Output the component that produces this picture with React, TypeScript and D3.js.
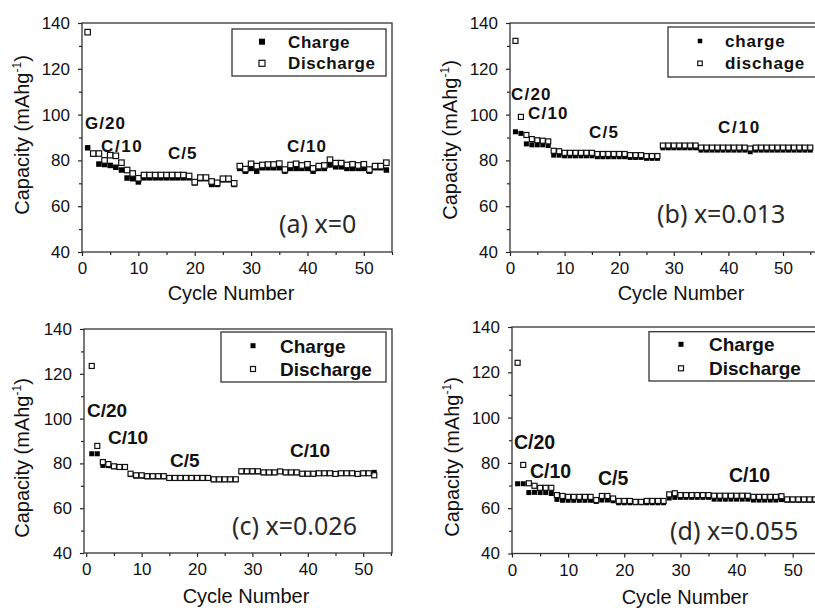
import React, { useEffect, useRef } from "react";
import * as d3 from "d3";

// capacity values per cycle (cycle number = index + 1)
const chargeA = [85.5, 82.8, 78.4, 78.2, 77.8, 77, 75.8, 72.3, 72, 70.6,
  72.4, 72.4, 72.4, 72.4, 72.4, 72.4, 72.4, 72.4, 72.4, 70.2, 72, 72, 69.5, 69.5, 71.5, 71.5, 69.5,
  76.5, 75.3, 76.5, 75.3, 76.8, 76.8, 76.8, 76.8, 75.3, 76.5, 76.5, 76.5, 76.5, 75.3, 76.5, 76.5,
  78, 77.2, 77.2, 76.5, 76.5, 76.5, 76.5, 75.3, 76.8, 76.8, 75.8];
const dischargeA = [136, 83, 83, 80, 82.3, 82, 79, 75.8, 74.3, 72.2,
  73.6, 73.6, 73.6, 73.6, 73.6, 73.6, 73.6, 73.6, 73.2, 70.5, 72.5, 72.5, 70.8, 70.2, 72, 72, 70,
  77.5, 76.2, 78.5, 77.5, 78, 78.2, 78.2, 78.6, 76, 78, 78.5, 77.8, 78.3, 76.5, 77.5, 77.8,
  80.3, 78.8, 78.8, 78, 78.3, 77.8, 78.3, 76, 77.5, 77.5, 79];

const chargeB = [92.5, 91.8, 87.2, 86.8, 86.8, 86.8, 86.5, 82.3, 82.3,
  82, 82, 82, 82, 82, 82, 81.6, 81.6, 81.6, 81.6, 81.6, 81.6, 81.3, 81.3, 81.3, 80.9, 80.9, 80.9,
  85.5, 85.5, 85.5, 85.5, 85.5, 85.5, 85.5, 84.5, 84.5, 84.5, 84.5, 84.5, 84.5, 84.5, 84.5, 84.5,
  83.8, 84.5, 84.5, 84.5, 84.5, 84.5, 84.5, 84.5, 84.5, 84.5, 84.5, 84.5];
const dischargeB = [132.2, 99, 91.1, 89.3, 88.8, 88.6, 88.3, 84.2, 84,
  83.3, 83.3, 83.3, 83.3, 83.3, 83.3, 82.8, 82.8, 82.8, 82.8, 82.8, 82.8, 82.3, 82.3, 82.3, 81.9, 81.9, 81.9,
  86.5, 86.5, 86.5, 86.5, 86.5, 86.5, 86.5, 85.6, 85.6, 85.6, 85.6, 85.6, 85.6, 85.6, 85.6, 85.6,
  85.2, 85.6, 85.6, 85.6, 85.6, 85.6, 85.6, 85.6, 85.6, 85.6, 85.6, 85.6];

const chargeC = [84.3, 84.3, 79.1, 79, 78.5, 78.2, 78.2, 75, 74.3, 74.3,
  74, 74, 74, 74, 73.3, 73.3, 73.3, 73.3, 73.3, 73.3, 73.3, 73.3, 72.7, 72.7, 72.7, 72.7, 72.7,
  76.2, 76.2, 76.2, 76.2, 75.8, 75.8, 75.8, 76.4, 75.8, 75.8, 75.8, 75.2, 75.2, 75.2,
  75.5, 75.5, 75.5, 75.5, 75.5, 75.5, 75.5, 75.5, 75.5, 75.5, 76];
const dischargeC = [123.5, 87.8, 80.6, 79.7, 78.7, 78.4, 78.4, 75.4, 74.7, 74.7,
  74.3, 74.3, 74.3, 74.3, 73.5, 73.5, 73.5, 73.5, 73.5, 73.5, 73.5, 73.5, 72.9, 72.9, 72.9, 72.9, 72.9,
  76.5, 76.5, 76.5, 76.5, 76, 76, 76, 76.4, 76, 76, 76, 75.4, 75.4, 75.4,
  75.6, 75.6, 75.6, 75.3, 75.6, 75.6, 75.6, 75.3, 75.6, 75.6, 74.7];

const chargeD = [70.8, 70.8, 66.9, 67, 66.9, 66.9, 66.5, 63.9,
  63.5, 63.5, 63.5, 63.5, 63.5, 63.5, 63, 63.6, 63.6, 63.3,
  62.4, 62.4, 62.4, 62.4, 62.4, 62.4, 62.4, 62.4, 62.4,
  64.5, 64.8, 64.8, 64.8, 64.8, 64.8, 64.8, 64.8, 64, 64, 64, 64, 64, 64, 64,
  63.6, 63.6, 63.6, 63.6, 63.6, 63.8, 63.5, 63.5, 63.5, 63.5, 63.5, 63.5, 63.5];
const dischargeD = [124.2, 79.1, 71, 69.9, 69, 69, 69, 65.8,
  65.4, 65, 65, 65, 65, 65, 63.6, 65.4, 65.4, 64.3,
  63.2, 63.2, 63.2, 62.8, 62.8, 63.2, 63.2, 63.2, 63.2,
  66.1, 66.6, 65.8, 65.8, 65.8, 65.8, 65.8, 65.8, 65.5, 65.5, 65.5, 65.5, 65.5, 65.5, 65.5,
  65, 65, 65, 65, 65, 65.3, 63.9, 63.9, 63.9, 63.9, 63.9, 63.9, 63.9];

const yTicks = [40, 60, 80, 100, 120, 140];
const yMinor = [50, 70, 90, 110, 130];
const xTicks = [0, 10, 20, 30, 40, 50];
const xMinor = [5, 15, 25, 35, 45, 55];

const FONT = "'Liberation Sans', Arial, Helvetica, sans-serif";
const NOTE_FONT = "'Noto Sans', 'Open Sans', sans-serif";

const panels = [
  {
    id: "a", left: 82, right: 392, top: 23, bottom: 252, xMin: 0, xMax: 55,
    charge: chargeA, discharge: dischargeA, marker: 5.5,
    legend: ["Charge", "Discharge"], box: [232, 29, 386, 76], markX: 262, textX: 288,
    rows: [41.7, 63.3], legendFont: 17, legendSpacing: 0.6, legendMarker: 6,
    rateFont: 17, rateSpacing: 1,
    rates: [["G/20", 85, 128.7], ["C/10", 101, 152, 1.6], ["C/5", 168, 158.7], ["C/10", 287, 151.7]],
    note: "(a) x=0", noteX: 279, noteY: 233,
    xTitle: [231, 300], yTitle: [29, 135],
  },
  {
    id: "b", left: 510, right: 821.2, top: 23, bottom: 252, xMin: 0, xMax: 57,
    charge: chargeB, discharge: dischargeB, marker: 5,
    legend: ["charge", "dischage"], box: [668, 27, 840, 77], markX: 700, textX: 725,
    rows: [41, 63.3], legendFont: 17, legendSpacing: 0.8, legendMarker: 4.5,
    rateFont: 17, rateSpacing: 1.2,
    rates: [["C/20", 511, 100.3], ["C/10", 528, 119.3], ["C/5", 589, 138.3], ["C/10", 718, 132.7, 1.8]],
    note: "(b) x=0.013", noteX: 657, noteY: 223,
    xTitle: [681, 300], yTitle: [457, 140],
  },
  {
    id: "c", left: 84, right: 392, top: 329, bottom: 553, xMin: -0.4, xMax: 55.2,
    charge: chargeC, discharge: dischargeC, marker: 5,
    legend: ["Charge", "Discharge"], box: [221, 332, 386, 382], markX: 253, textX: 280,
    rows: [345.7, 369], legendFont: 19, legendSpacing: 0, legendMarker: 5,
    rateFont: 19, rateSpacing: 0,
    rates: [["C/20", 87, 417], ["C/10", 108, 443.7], ["C/5", 170, 467], ["C/10", 290, 457]],
    note: "(c) x=0.026", noteX: 232, noteY: 535,
    xTitle: [246, 603], yTitle: [29, 458],
  },
  {
    id: "d", left: 512, right: 832, top: 327, bottom: 553.5, xMin: 0, xMax: 57,
    charge: chargeD, discharge: dischargeD, marker: 5,
    legend: ["Charge", "Discharge"], box: [649, 331.7, 840, 381], markX: 681, textX: 709,
    rows: [344.3, 368.3], legendFont: 19, legendSpacing: 0, legendMarker: 5,
    rateFont: 19.5, rateSpacing: 0,
    rates: [["C/20", 514, 449.3], ["C/10", 530, 477.7], ["C/5", 598, 485.3], ["C/10", 729, 482]],
    note: "(d) x=0.055", noteX: 670, noteY: 540,
    xTitle: [685, 604], yTitle: [459, 457],
  },
];

const Panel = ({ p }: { p: any }) => {
  const xRef = useRef<SVGGElement>(null);
  const yRef = useRef<SVGGElement>(null);

  const x = d3.scaleLinear().domain([p.xMin, p.xMax]).range([p.left, p.right]);
  const y = d3.scaleLinear().domain([40, 140]).range([p.bottom, p.top]);

  useEffect(() => {
    const gx = d3.select(xRef.current);
    gx.selectAll("*").remove();
    gx.append("g").call(d3.axisBottom(x).tickValues(xTicks).tickSize(4).tickSizeOuter(0).tickPadding(6));
    gx.append("g").call(
      d3.axisBottom(x).tickValues(xMinor.filter((v) => v <= p.xMax)).tickSize(3).tickSizeOuter(0).tickFormat(() => "")
    );

    const gy = d3.select(yRef.current);
    gy.selectAll("*").remove();
    gy.append("g").call(d3.axisLeft(y).tickValues(yTicks).tickSize(4).tickSizeOuter(0).tickPadding(8));
    gy.append("g").call(d3.axisLeft(y).tickValues(yMinor).tickSize(3).tickSizeOuter(0).tickFormat(() => ""));

    [gx, gy].forEach((g) => {
      g.selectAll(".domain").remove();
      g.selectAll("line").attr("stroke", "#222").attr("stroke-width", 1.2);
      g.selectAll("text")
        .attr("font-size", 17)
        .attr("font-family", FONT)
        .attr("fill", "#111");
    });
  }, [p]);

  const s = p.marker;
  const lm = p.legendMarker;
  const cycles = p.charge.map((_: number, i: number) => i + 1);

  return (
    <g>
      <g ref={xRef} transform={`translate(0,${p.bottom})`} />
      <g ref={yRef} transform={`translate(${p.left},0)`} />
      <rect
        x={p.left}
        y={p.top}
        width={p.right - p.left}
        height={p.bottom - p.top}
        fill="none"
        stroke="#333"
        strokeWidth={1.3}
      />

      {p.charge.map((v: number, i: number) => (
        <rect key={`c${i}`} x={x(cycles[i]) - s / 2} y={y(v) - s / 2} width={s} height={s} fill="#000" />
      ))}
      {p.discharge.map((v: number, i: number) => (
        <rect
          key={`d${i}`}
          x={x(i + 1) - s / 2}
          y={y(v) - s / 2}
          width={s}
          height={s}
          fill="#fff"
          stroke="#111"
          strokeWidth={1.2}
        />
      ))}

      <rect
        x={p.box[0]}
        y={p.box[1]}
        width={p.box[2] - p.box[0]}
        height={p.box[3] - p.box[1]}
        fill="#fff"
        stroke="#333"
        strokeWidth={1.3}
      />
      <rect x={p.markX - lm / 2} y={p.rows[0] - lm / 2} width={lm} height={lm} fill="#000" />
      <rect
        x={p.markX - lm / 2}
        y={p.rows[1] - lm / 2}
        width={lm}
        height={lm}
        fill="#fff"
        stroke="#111"
        strokeWidth={1.2}
      />
      {p.legend.map((t: string, i: number) => (
        <text
          key={t}
          x={p.textX}
          y={p.rows[i] + p.legendFont * 0.36}
          fontFamily={FONT}
          fontWeight="bold"
          fontSize={p.legendFont}
          letterSpacing={p.legendSpacing}
          fill="#111"
        >
          {t}
        </text>
      ))}

      {p.rates.map((r: any[], i: number) => (
        <text
          key={`r${i}`}
          x={r[1]}
          y={r[2]}
          fontFamily={FONT}
          fontWeight="bold"
          fontSize={p.rateFont}
          letterSpacing={r[3] ?? p.rateSpacing}
          fill="#111"
        >
          {r[0]}
        </text>
      ))}

      <text x={p.noteX} y={p.noteY} fontFamily={NOTE_FONT} fontSize={25} fill="#2a2a2a">
        {p.note}
      </text>

      <text x={p.xTitle[0]} y={p.xTitle[1]} textAnchor="middle" fontFamily={FONT} fontSize={20} fill="#111">
        Cycle Number
      </text>
      <text
        transform={`translate(${p.yTitle[0]},${p.yTitle[1]}) rotate(-90)`}
        textAnchor="middle"
        fontFamily={FONT}
        fontSize={20}
        fill="#111"
      >
        Capacity (mAhg
        <tspan fontSize={12} dy={-8}>-1</tspan>
        <tspan dy={8}>)</tspan>
      </text>
    </g>
  );
};

export default function App() {
  return (
    <div style={{ position: "absolute", left: 0, top: 0 }}>
      <svg width={815} height={608} style={{ display: "block", background: "#fff" }}>
        {panels.map((p) => (
          <Panel key={p.id} p={p} />
        ))}
      </svg>
    </div>
  );
}
